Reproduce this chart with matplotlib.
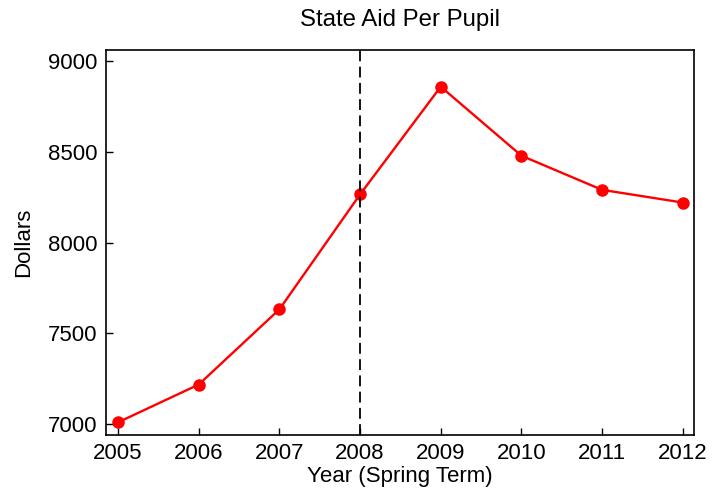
import matplotlib
matplotlib.use('Agg')
import matplotlib.pyplot as plt

plt.rcParams['font.family'] = ['Liberation Sans', 'DejaVu Sans']

years = [2005, 2006, 2007, 2008, 2009, 2010, 2011, 2012]
dollars = [7010, 7218, 7632, 8265, 8858, 8478, 8290, 8220]
split_year = 2008

fig = plt.figure(figsize=(7.27, 4.98), dpi=100)
ax = fig.add_axes([0.1458, 0.1265, 0.8088, 0.7731])

ax.plot(years, dollars, color='red', linewidth=1.7, marker='o', markersize=8)
ax.axvline(split_year, color='black', linestyle='--', linewidth=1.3, dashes=(6, 3))

ax.set_xlim(2004.85, 2012.14)
ax.set_ylim(6940, 9060)
ax.set_xticks(years)
ax.set_yticks([7000, 7500, 8000, 8500, 9000])
ax.tick_params(direction='in', labelsize=16, length=5, width=1, pad=6)

ax.set_xlabel('Year (Spring Term)', fontsize=16, labelpad=1)
ax.set_ylabel('Dollars', fontsize=16, labelpad=10)
ax.set_title('State Aid Per Pupil', fontsize=17.3, pad=17)

for s in ax.spines.values():
    s.set_linewidth(1.2)

fig.savefig('out.png', dpi=100)
